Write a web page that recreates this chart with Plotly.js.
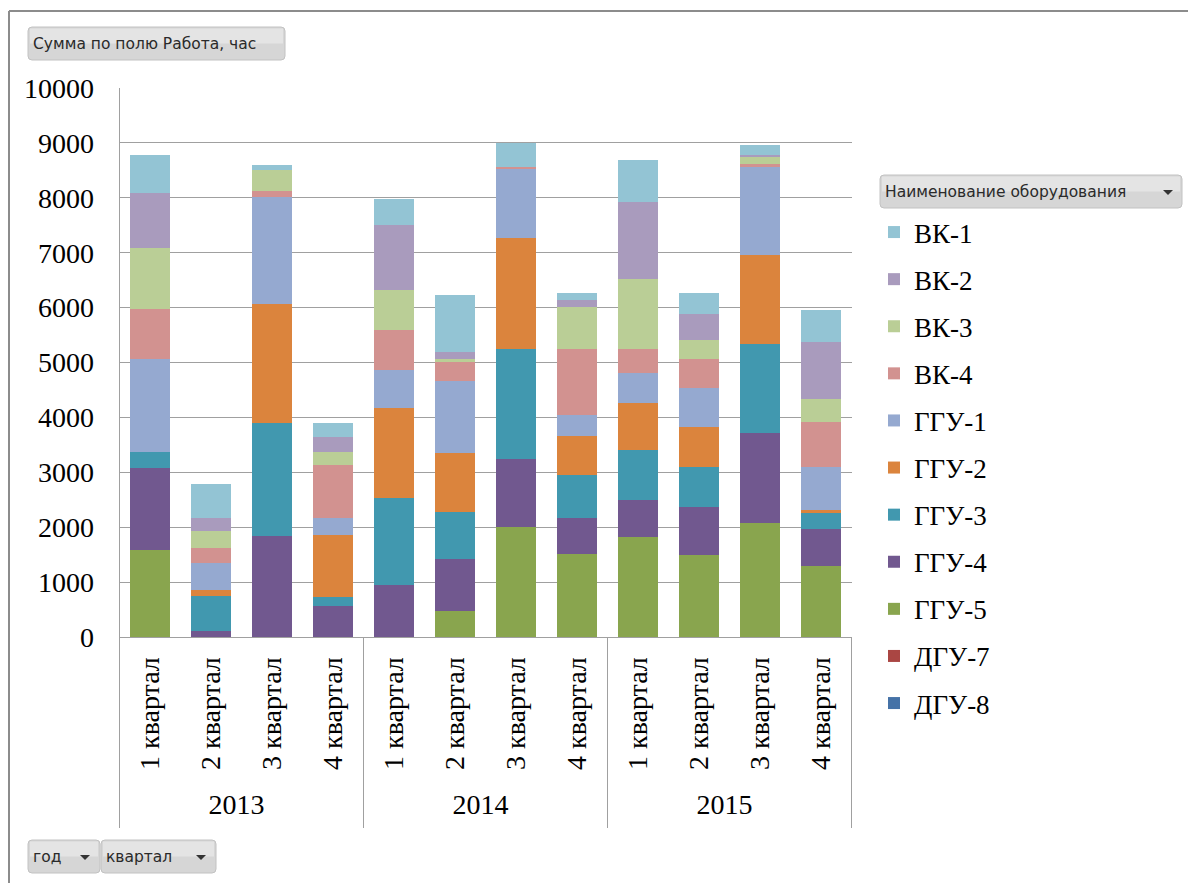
<!DOCTYPE html>
<html>
<head>
<meta charset="utf-8">
<script src="https://cdn.plot.ly/plotly-3.0.1.min.js"></script>
<style>html,body{margin:0;padding:0;background:#fff;}#chart{width:1188px;height:883px;}</style>
</head>
<body>
<div id="chart"></div>
<script>
// Categories
var years = ["2013","2013","2013","2013","2014","2014","2014","2014","2015","2015","2015","2015"];
var quarters = ["1 квартал","2 квартал","3 квартал","4 квартал","1 квартал","2 квартал","3 квартал","4 квартал","1 квартал","2 квартал","3 квартал","4 квартал"];
var yTicks = [0,1000,2000,3000,4000,5000,6000,7000,8000,9000,10000];

// Series values (hours)
var dgu8 = [0,0,0,0,0,0,0,0,0,0,0,0];
var dgu7 = [0,0,0,0,0,0,0,0,0,0,0,0];
var ggu5 = [1578,0,0,0,0,477,2009,1519,1817,1492,2076,1300];
var ggu4 = [1499,113,1844,564,942,935,1234,643,670,869,1644,669];
var ggu3 = [298,643,2049,159,1591,863,2009,782,928,729,1625,286];
var ggu2 = [0,93,2181,1140,1645,1080,2009,710,842,730,1618,59];
var ggu1 = [1685,491,1943,299,689,1313,1273,391,544,716,1598,776];
var vk4 = [908,285,113,975,717,345,34,1207,451,524,60,822];
var vk3 = [1121,298,378,238,729,47,0,756,1273,345,132,432];
var vk2 = [994,239,0,259,1187,132,0,139,1406,477,27,1021];
var vk1 = [690,617,93,259,484,1035,437,120,756,385,186,583];

// stacking order bottom -> top
var seriesNames = ["ДГУ-8","ДГУ-7","ГГУ-5","ГГУ-4","ГГУ-3","ГГУ-2","ГГУ-1","ВК-4","ВК-3","ВК-2","ВК-1"];
var seriesValues = [dgu8,dgu7,ggu5,ggu4,ggu3,ggu2,ggu1,vk4,vk3,vk2,vk1];
var seriesColors = ["#4572A7","#AA4643","#89A54E","#71588F","#4198AF","#DB843D","#95A9D0","#D29290","#BACE96","#A99BBD","#93C4D4"];

var traces = seriesNames.map(function(n,i){
  return {
    type:"bar", name:n, x:[years,quarters], y:seriesValues[i],
    legendgroup:n, legendrank:(seriesNames.length - i) * 10,
    marker:{color:seriesColors[i], line:{width:0}},
    hoverinfo:"x+y+name"
  };
});

var serif = "Liberation Serif, Times New Roman, serif";
var sans = "DejaVu Sans, Liberation Sans, sans-serif";

// paper coordinate helpers (pixel -> paper)
var W=1188,H=883, mL=119, mR=336, mT=88, mB=246;
var pw=W-mL-mR, ph=H-mT-mB;
function px(x){return (x-mL)/pw;}
function py(y){return (H-mB-y)/ph;}
function P(x,y){return px(x)+","+py(y);}
function rbox(x0,y0,x1,y1,fill){
  var r=4;
  var path="M"+P(x0+r,y0)+" L"+P(x1-r,y0)+" Q"+P(x1,y0)+" "+P(x1,y0+r)+
    " L"+P(x1,y1-r)+" Q"+P(x1,y1)+" "+P(x1-r,y1)+" L"+P(x0+r,y1)+" Q"+P(x0,y1)+" "+P(x0,y1-r)+
    " L"+P(x0,y0+r)+" Q"+P(x0,y0)+" "+P(x0+r,y0)+" Z";
  return {type:"path", xref:"paper", yref:"paper", path:path,
    fillcolor:fill||"#dcdcdc", line:{color:"#c2c2c2", width:1}, layer:"above"};
}
function band(x0,y0,x1,y1,fill){
  return {type:"rect", xref:"paper", yref:"paper", x0:px(x0), x1:px(x1), y0:py(y1), y1:py(y0),
    fillcolor:fill, line:{width:0}, layer:"above"};
}
function tri(cx,cy){
  return {type:"path", xref:"paper", yref:"paper",
    path:"M"+P(cx-5,cy-2)+" L"+P(cx+5,cy-2)+" L"+P(cx,cy+3)+" Z",
    fillcolor:"#333", line:{width:0}, layer:"above"};
}
function lbl(text,x,y){
  return {text:text, xref:"paper", yref:"paper", x:px(x), y:py(y), xanchor:"left", yanchor:"middle",
    showarrow:false, font:{family:sans, size:15.5, color:"#2a2a2a"}};
}
function button(x0,y0,x1,y1){
  return [rbox(x0,y0,x1,y1,"#d6d6d6"), band(x0+2,y0+1.5,x1-2,(y0+y1)/2,"#e4e4e4")];
}

var dividerPos = [-0.5,3.5,7.5,11.5];
var shapes = [
  // outer frame
  {type:"line", xref:"paper", yref:"paper", x0:px(9), x1:px(1188), y0:py(11), y1:py(11), line:{color:"#8c8c8c", width:2}},
  {type:"line", xref:"paper", yref:"paper", x0:px(9), x1:px(9), y0:py(11), y1:py(883), line:{color:"#8c8c8c", width:2}}
];
dividerPos.forEach(function(d,i){
  shapes.push({type:"line", xref:"x", yref:"paper", x0:d, x1:d, y0:(i===0?1:0), y1:py(828), line:{color:"#a0a0a0", width:1}});
});
shapes = shapes.concat(button(28,27,285,60), button(880,175,1182,208), [tri(1168,192)],
  button(28,840,100,873), [tri(85,857)], button(101,840,216,873), [tri(201,857)]);

var annotations = [
  lbl("Сумма по полю Работа, час",31,44),
  lbl("Наименование оборудования",883,192),
  lbl("год",31,857),
  lbl("квартал",104,857)
];

var layout = {
  width:W, height:H,
  margin:{l:mL, r:mR, t:mT, b:mB},
  paper_bgcolor:"#fff", plot_bgcolor:"#fff",
  barmode:"stack", bargap:0.35,
  showlegend:true,
  legend:{x:1.03, xanchor:"left", y:py(208), yanchor:"top", traceorder:"grouped", tracegroupgap:9,
    bgcolor:"rgba(0,0,0,0)", font:{family:serif, size:27, color:"#000"}, itemwidth:30},
  xaxis:{type:"multicategory", showgrid:false, showline:true, linecolor:"#a0a0a0", linewidth:1,
    showdividers:false,
    tickangle:-90, tickfont:{family:serif, size:28, color:"#000"}, ticks:"", ticklabelstandoff:8},
  yaxis:{range:[0,10000], tickvals:yTicks, ticktext:yTicks.map(String), showgrid:true, gridcolor:"#a0a0a0", gridwidth:1,
    zeroline:false, showline:false, ticks:"", ticklabelstandoff:24,
    tickfont:{family:serif, size:28, color:"#000"}},
  shapes:shapes,
  annotations:annotations,
  hovermode:"closest"
};

Plotly.newPlot("chart", traces, layout, {displayModeBar:false});
</script>
</body>
</html>
